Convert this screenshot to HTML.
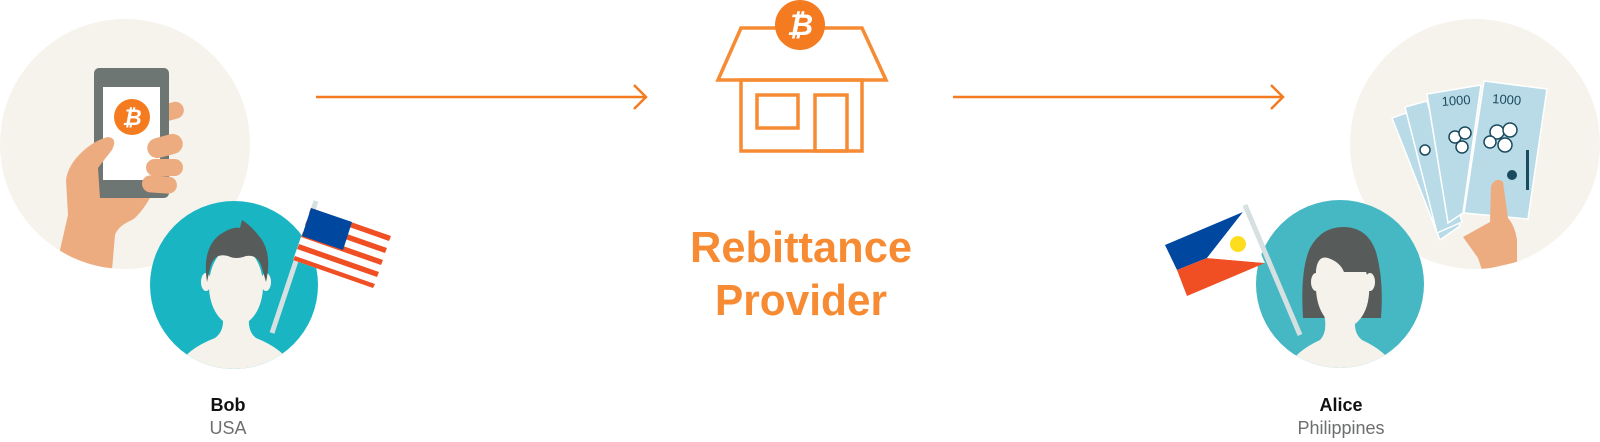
<!DOCTYPE html>
<html><head><meta charset="utf-8"><style>
html,body{margin:0;padding:0;background:#fff;}
svg{display:block;font-family:"Liberation Sans",sans-serif;}
</style></head><body>
<svg width="1600" height="442" viewBox="0 0 1600 442">
<defs>
<clipPath id="cl1"><circle cx="125" cy="144" r="125"/></clipPath>
<clipPath id="cb"><circle cx="234" cy="285" r="84"/></clipPath>
<clipPath id="cr1"><circle cx="1475" cy="144" r="125"/></clipPath>
<clipPath id="ca"><circle cx="1340" cy="284" r="84"/></clipPath>
</defs>

<!-- Left: phone in hand -->
<g>
<circle cx="125" cy="144" r="125" fill="#f5f3ec"/>
<g clip-path="url(#cl1)">
<rect x="150" y="104" width="34" height="17" rx="8.5" fill="#edac80" transform="rotate(-15 167 112)"/>
<rect x="94" y="68" width="75" height="130" rx="5" fill="#6e7673"/>
<rect x="103" y="87" width="57" height="93" fill="#fff"/>
<circle cx="132" cy="117" r="18" fill="#f47b20"/>
<text x="132" y="125" font-size="22" font-weight="bold" fill="#fff" text-anchor="middle" font-style="italic">₿</text>
<path d="M60 250 L68 215 L66 180 Q68 165 82 152 Q95 140 108 137 Q118 138 112 150 Q104 160 98 168 L100 198 L150 198 Q140 215 132 220 Q118 226 115 235 L112 270 L60 270 Z" fill="#edac80"/>
<rect x="147" y="136" width="36" height="20" rx="10" fill="#edac80" transform="rotate(-15 165 146)"/>
<rect x="146" y="159" width="37" height="17" rx="8.5" fill="#edac80"/>
<rect x="142" y="176" width="35" height="17" rx="8.5" fill="#edac80" transform="rotate(4 160 184)"/>
</g>
</g>

<!-- Bob avatar -->
<g>
<circle cx="234" cy="285" r="84" fill="#19b5c2"/>
<g clip-path="url(#cb)">
<path d="M176 370 Q184 350 215 338 Q226 330 222 312 L250 312 Q246 330 256 338 Q286 350 294 370 Z" fill="#f5f2eb"/>
<ellipse cx="206" cy="282" rx="5" ry="9" fill="#f5f2eb"/>
<ellipse cx="266" cy="282" rx="5" ry="9" fill="#f5f2eb"/>
<ellipse cx="236" cy="286" rx="27" ry="40" fill="#f5f2eb"/>
<path d="M207 282 Q202 250 218 236 Q232 226 240 228 L242 220 Q252 226 262 240 Q272 256 266 282 L262 268 Q258 254 246 256 Q236 260 228 256 Q214 252 210 268 Z" fill="#575b5a"/>
</g>
</g>

<!-- US flag -->
<g>
<line x1="316" y1="201" x2="272" y2="333" stroke="#d6e0e0" stroke-width="5"/>
<polygon points="311,208 391,236 373,288 293,260" fill="#fff"/>
<polygon points="311,208 391,236 389,241 309,213" fill="#f04e23"/>
<polygon points="307,220 387,248 385,253 305,225" fill="#f04e23"/>
<polygon points="303,232 383,260 381,265 301,237" fill="#f04e23"/>
<polygon points="299,244 379,272 377,277 297,249" fill="#f04e23"/>
<polygon points="295,256 375,284 373,288 293,260" fill="#f04e23"/>
<polygon points="311,208 352,222 343,250 302,236" fill="#0047a0"/>
</g>

<text x="228" y="411" font-size="18" font-weight="bold" fill="#111" text-anchor="middle">Bob</text>
<text x="228" y="434" font-size="18" fill="#6d6e70" text-anchor="middle">USA</text>

<!-- Arrows -->
<g stroke="#f47b20" stroke-width="2.5" fill="none">
<line x1="316" y1="97" x2="646" y2="97"/>
<polyline points="634,85 646,97 634,109"/>
</g>
<g stroke="#f47b20" stroke-width="2.5" fill="none">
<line x1="953" y1="97" x2="1283" y2="97"/>
<polyline points="1271,85 1283,97 1271,109"/>
</g>

<!-- House -->
<g stroke="#f68b33" stroke-width="3.5" fill="none">
<polygon points="741,28 862,28 886,80 718,80"/>
<rect x="741" y="80" width="121" height="71"/>
<rect x="757" y="95" width="41" height="33"/>
<rect x="815" y="95" width="32" height="56"/>
</g>
<circle cx="800" cy="25" r="25" fill="#f47b20"/>
<text x="800" y="35" font-size="30" font-weight="bold" fill="#fff" text-anchor="middle" font-style="italic">₿</text>

<text x="801" y="262" font-size="44" font-weight="bold" fill="#f68b33" text-anchor="middle" textLength="222" lengthAdjust="spacingAndGlyphs">Rebittance</text>
<text x="801" y="315" font-size="44" font-weight="bold" fill="#f68b33" text-anchor="middle" textLength="172" lengthAdjust="spacingAndGlyphs">Provider</text>

<!-- Right: money in hand -->
<g>
<circle cx="1475" cy="144" r="125" fill="#f5f3ec"/>
<g clip-path="url(#cr1)">
<g stroke="#fff" stroke-width="1.5" fill="#b9dbe8">
<polygon points="1392,118 1412,111 1460,226 1440,240"/>
<polygon points="1405,107 1427,101 1462,222 1437,233"/>
<polygon points="1427,94 1481,85 1463,213 1448,223"/>
<polygon points="1484,81 1547,89 1528,219 1464,213"/>
</g>
<text x="1492" y="103" font-size="13" fill="#1a4a5e" transform="rotate(4 1492 103)">1000</text>
<text x="1442" y="106" font-size="13" fill="#1a4a5e" transform="rotate(-4 1442 106)">1000</text>
<g fill="#fff" stroke="#1a4a5e" stroke-width="1.5">
<circle cx="1497" cy="132" r="7"/><circle cx="1510" cy="130" r="7"/><circle cx="1505" cy="145" r="7"/><circle cx="1490" cy="142" r="6"/>
<circle cx="1455" cy="137" r="6"/><circle cx="1465" cy="133" r="6"/><circle cx="1462" cy="147" r="6"/>
<circle cx="1425" cy="150" r="5"/>
</g>
<circle cx="1512" cy="175" r="5" fill="#1a4a5e"/>
<rect x="1526" y="150" width="3" height="40" fill="#1a4a5e"/>
<path d="M1463 237 L1490 222 L1491 186 Q1496 176 1503 182 L1508 218 Q1515 226 1517 240 L1517 262 L1482 270 L1478 258 Z" fill="#edac80"/>
</g>
</g>

<!-- Alice avatar -->
<g>
<circle cx="1340" cy="284" r="84" fill="#45b8c3"/>
<g clip-path="url(#ca)">
<path d="M1303 318 Q1300 270 1310 248 Q1322 226 1345 227 Q1368 228 1376 252 Q1384 280 1381 318 Z" fill="#575b5a"/>
<path d="M1286 370 Q1294 352 1320 340 Q1328 332 1324 314 L1356 314 Q1352 332 1362 340 Q1388 352 1396 370 Z" fill="#f5f2eb"/>
<ellipse cx="1316" cy="282" rx="5" ry="9" fill="#f5f2eb"/>
<ellipse cx="1370" cy="282" rx="5" ry="9" fill="#f5f2eb"/>
<path d="M1316 270 Q1318 255 1328 258 Q1340 262 1344 272 L1366 272 L1369 280 Q1372 320 1344 330 Q1318 322 1316 290 Z" fill="#f5f2eb"/>
</g>
</g>

<!-- Philippines flag -->
<g>
<polygon points="1165,245 1243,212 1207,258 1177,270" fill="#0047a0"/>
<polygon points="1177,270 1207,258 1265,263 1187,296" fill="#f04e23"/>
<polygon points="1243,212 1265,263 1207,258" fill="#fff"/>
<circle cx="1238" cy="244" r="8" fill="#fedd1e"/>
<line x1="1245" y1="205" x2="1300" y2="335" stroke="#d6e0e0" stroke-width="5"/>
</g>

<text x="1341" y="411" font-size="18" font-weight="bold" fill="#111" text-anchor="middle">Alice</text>
<text x="1341" y="434" font-size="18" fill="#6d6e70" text-anchor="middle">Philippines</text>
</svg>
</body></html>
